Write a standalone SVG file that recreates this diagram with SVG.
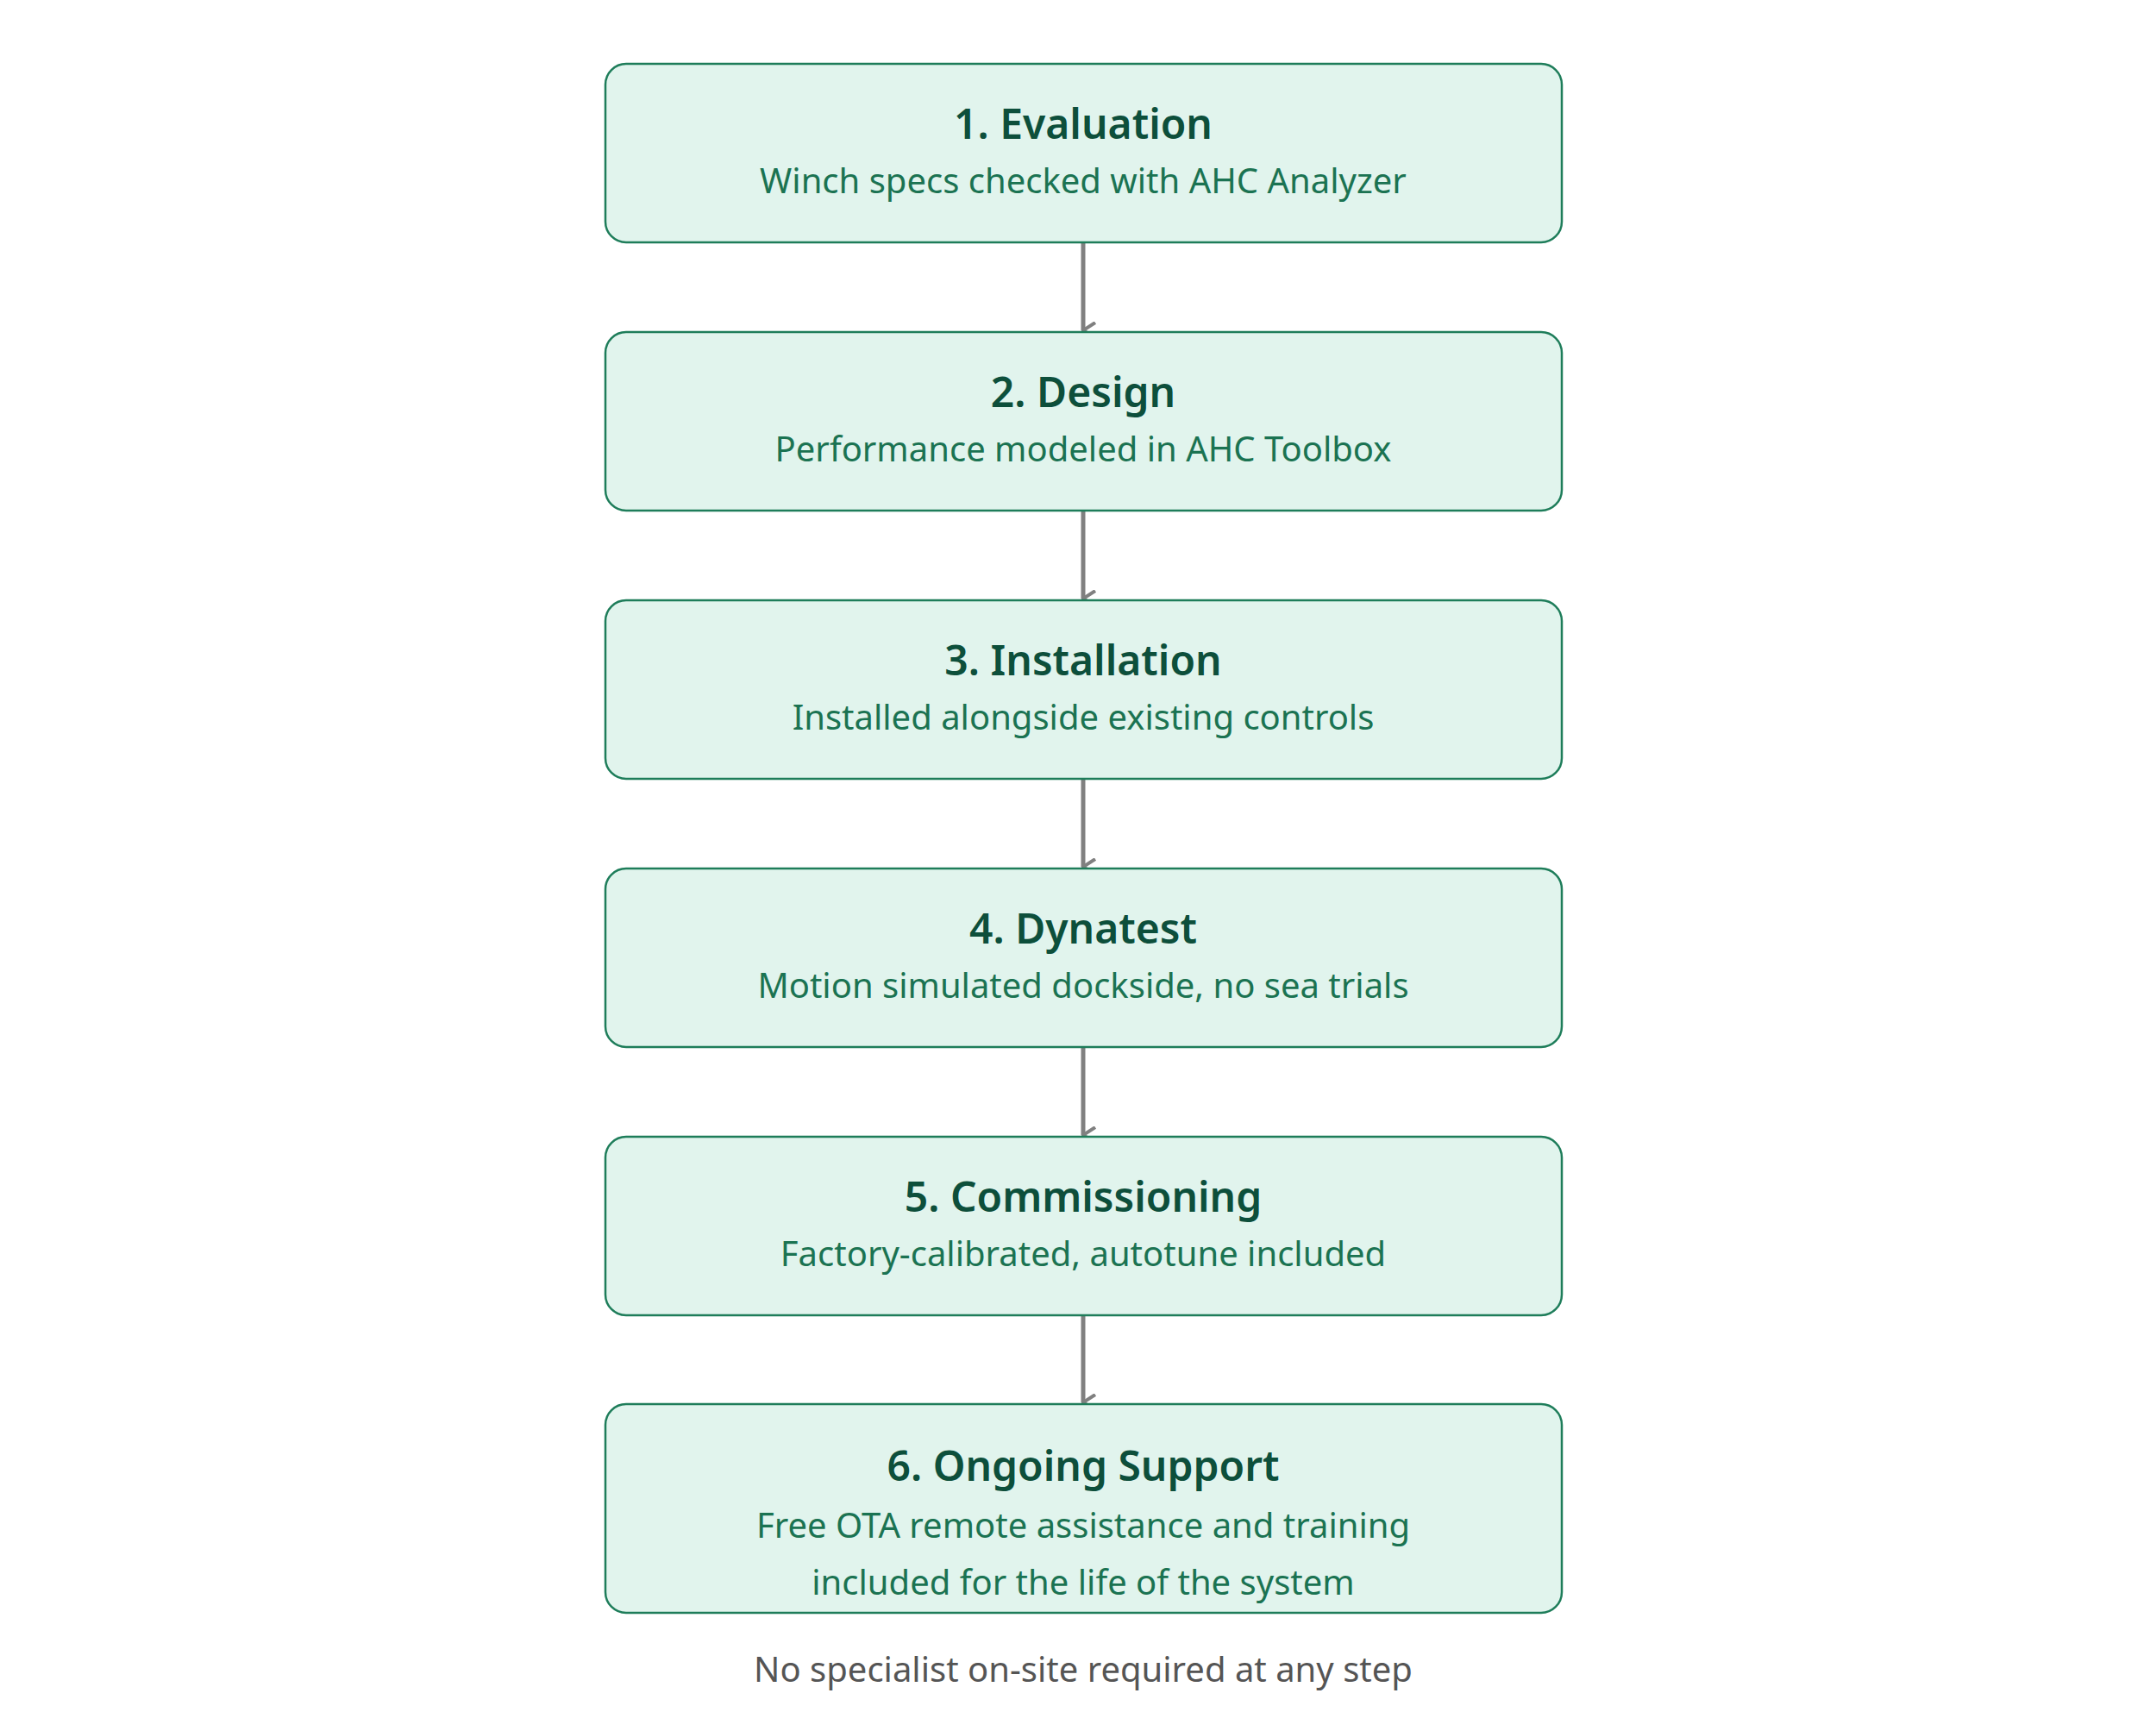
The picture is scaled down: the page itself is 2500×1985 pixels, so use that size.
<svg xmlns="http://www.w3.org/2000/svg" width="2500" height="1985" viewBox="0 0 2500 1985">
<style>
.box{fill:#e1f4ed;stroke:#1e7d5a;stroke-width:2.5}
.t{font-family:"Noto Sans","Open Sans",sans-serif;font-weight:600;font-size:48px;fill:#0d4f3b;text-anchor:middle}
.s{font-family:"Noto Sans","Open Sans",sans-serif;font-size:40px;fill:#1b7352;text-anchor:middle}
.f{font-family:"Noto Sans","Open Sans",sans-serif;font-size:40px;fill:#555;text-anchor:middle}
.c{stroke:#808080;stroke-width:5;fill:none}
</style>
<defs><marker id="ah" viewBox="0 0 20 20" refX="10" refY="18" markerWidth="20" markerHeight="20" markerUnits="userSpaceOnUse" orient="auto-start-reverse"><path d="M1 4 L10 18 L19 4" fill="none" stroke="#808080" stroke-width="4"/></marker></defs>
<rect width="2500" height="1985" fill="#fff"/>
<g id="connectors">
<line class="c" x1="1256" y1="281" x2="1256" y2="383" marker-end="url(#ah)"/>
<line class="c" x1="1256" y1="592" x2="1256" y2="694" marker-end="url(#ah)"/>
<line class="c" x1="1256" y1="903" x2="1256" y2="1005" marker-end="url(#ah)"/>
<line class="c" x1="1256" y1="1214" x2="1256" y2="1316" marker-end="url(#ah)"/>
<line class="c" x1="1256" y1="1525" x2="1256" y2="1626" marker-end="url(#ah)"/>
</g>
<g id="n1"><rect class="box" x="702" y="74" width="1109" height="207" rx="24"/><text class="t" x="1256" y="161">1. Evaluation</text><text class="s" x="1256" y="224">Winch specs checked with AHC Analyzer</text></g>
<g id="n2"><rect class="box" x="702" y="385" width="1109" height="207" rx="24"/><text class="t" x="1256" y="472">2. Design</text><text class="s" x="1256" y="535">Performance modeled in AHC Toolbox</text></g>
<g id="n3"><rect class="box" x="702" y="696" width="1109" height="207" rx="24"/><text class="t" x="1256" y="783">3. Installation</text><text class="s" x="1256" y="846">Installed alongside existing controls</text></g>
<g id="n4"><rect class="box" x="702" y="1007" width="1109" height="207" rx="24"/><text class="t" x="1256" y="1094">4. Dynatest</text><text class="s" x="1256" y="1157">Motion simulated dockside, no sea trials</text></g>
<g id="n5"><rect class="box" x="702" y="1318" width="1109" height="207" rx="24"/><text class="t" x="1256" y="1405">5. Commissioning</text><text class="s" x="1256" y="1468">Factory-calibrated, autotune included</text></g>
<g id="n6"><rect class="box" x="702" y="1628" width="1109" height="242" rx="24"/><text class="t" x="1256" y="1717">6. Ongoing Support</text><text class="s" x="1256" y="1783">Free OTA remote assistance and training</text><text class="s" x="1256" y="1849">included for the life of the system</text></g>
<text class="f" x="1256" y="1950">No specialist on-site required at any step</text>
</svg>
